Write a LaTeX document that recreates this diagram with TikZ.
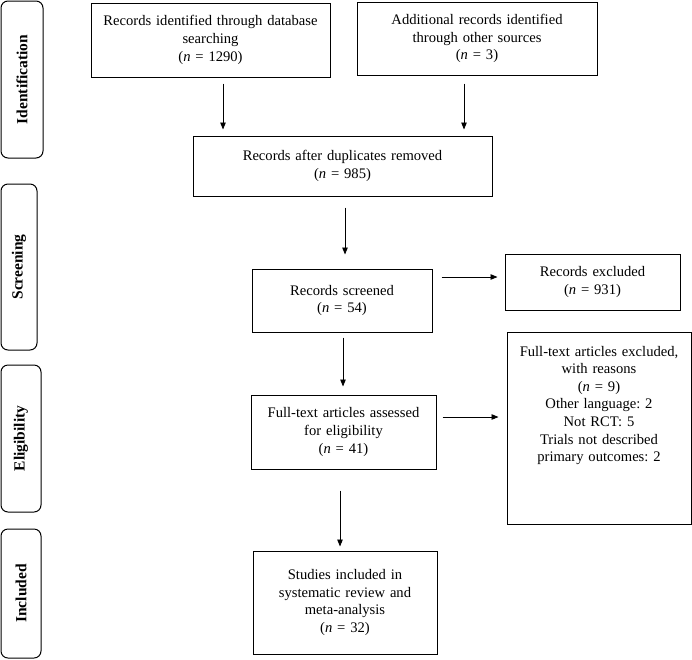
\documentclass[tikz,border=0pt]{standalone}
\usepackage{fontspec}
\setmainfont{Liberation Serif}
\usetikzlibrary{arrows.meta}
\frenchspacing
\begin{document}
\begin{tikzpicture}[x=1pt,y=-1pt,
  box/.style={draw,line width=1pt,align=center,inner sep=2pt,
    font=\fontsize{14.6}{17.6}\selectfont},
  side/.style={draw,line width=1pt,rounded corners=7pt,rotate=90,
    font=\bfseries\fontsize{15.5}{16}\selectfont,inner sep=0pt},
  arr/.style={line width=0.9pt,-{Triangle[width=5.5pt,length=7pt]}}]
\useasboundingbox (0,0) rectangle (692,659);
% side labels
\node[side,minimum width=157,minimum height=42] (s1) at (22,79.5) {Identification};
\node[side,minimum width=166,minimum height=36] (s2) at (19,267) {Screening};
\node[side,minimum width=147,minimum height=40] (s3) at (21,438.5) {Eligibility};
\node[side,minimum width=129,minimum height=40] (s4) at (21,593.5) {Included};
% main boxes
\node[box,minimum width=239,minimum height=74,text width=234] (A) at (210.5,40)
  {Records identified through database\\searching\\(\textit{n} = 1290)};
\node[box,minimum width=240,minimum height=73,text width=234] (B) at (477,38.5)
  {Additional records identified\\through other sources\\(\textit{n} = 3)};
\node[box,minimum width=299,minimum height=60,text width=292] (C) at (342.5,166)
  {Records after duplicates removed\\(\textit{n} = 985)};
\node[box,minimum width=180,minimum height=63,text width=174] (D) at (342,300.5)
  {Records screened\\(\textit{n} = 54)};
\node[box,minimum width=175,minimum height=56,text width=170] (E) at (592.5,282)
  {Records excluded\\(\textit{n} = 931)};
\node[box,minimum width=185,minimum height=74,text width=180] (F) at (343.5,432)
  {Full-text articles assessed\\for eligibility\\(\textit{n} = 41)};
\node[box,minimum width=184,minimum height=192] (G) at (599,428) {};
\node[box,draw=none,anchor=north,text width=180,inner sep=0pt] (Gt) at ([yshift=-14pt]G.north)
  {Full-text articles excluded,\\with reasons\\(\textit{n} = 9)\\Other language: 2\\Not RCT: 5\\Trials not described\\primary outcomes: 2};
\node[box,minimum width=184,minimum height=103,text width=180] (H) at (345,602.5)
  {Studies included in\\systematic review and\\meta-analysis\\(\textit{n} = 32)};
% arrow x positions
\coordinate (xa) at (223,0);
\coordinate (xb) at (464,0);
\coordinate (xc) at (345,0);
\coordinate (xd) at (343,0);
\coordinate (xf) at (340,0);
\coordinate (yd) at (0,277);
\coordinate (yf) at (0,417);
% arrows
\draw[arr,shorten <=6pt,shorten >=6pt] (A.south -| xa) -- (C.north -| xa);
\draw[arr,shorten <=8pt,shorten >=6pt] (B.south -| xb) -- (C.north -| xb);
\draw[arr,shorten <=11pt,shorten >=14pt] (C.south -| xc) -- (D.north -| xc);
\draw[arr,shorten <=9pt,shorten >=7pt] (D.east |- yd) -- (E.west |- yd);
\draw[arr,shorten <=5pt,shorten >=8pt] (D.south -| xd) -- (F.north -| xd);
\draw[arr,shorten <=6pt,shorten >=8pt] (F.east |- yf) -- (G.west |- yf);
\draw[arr,shorten <=21pt,shorten >=4pt] (F.south -| xf) -- (H.north -| xf);
\end{tikzpicture}
\end{document}
